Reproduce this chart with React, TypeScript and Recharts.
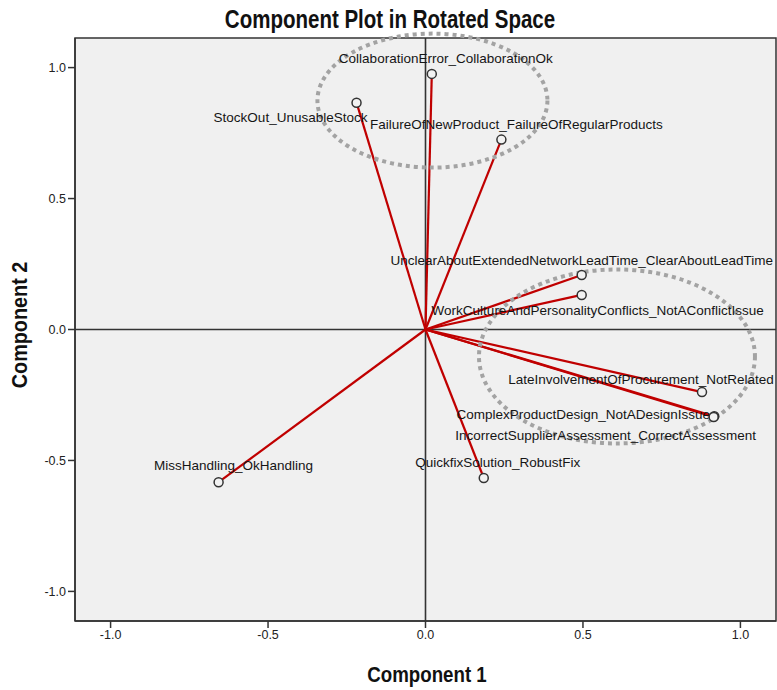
import React from 'react';
import {
  ScatterChart,
  Scatter,
  XAxis,
  YAxis,
  ReferenceArea,
  ReferenceLine,
  ReferenceDot,
} from 'recharts';

// component loadings (rotated)
const NAMES = [
  'CollaborationError_CollaborationOk',
  'StockOut_UnusableStock',
  'FailureOfNewProduct_FailureOfRegularProducts',
  'UnclearAboutExtendedNetworkLeadTime_ClearAboutLeadTime',
  'WorkCultureAndPersonalityConflicts_NotAConflictIssue',
  'LateInvolvementOfProcurement_NotRelated',
  'ComplexProductDesign_NotADesignIssue',
  'IncorrectSupplierAssessment_CorrectAssessment',
  'QuickfixSolution_RobustFix',
  'MissHandling_OkHandling',
];
const COMPONENT_1 = [0.02, -0.219, 0.241, 0.496, 0.496, 0.878, 0.917, 0.915, 0.185, -0.657];
const COMPONENT_2 = [0.976, 0.866, 0.725, 0.208, 0.132, -0.239, -0.331, -0.334, -0.567, -0.583];

const TICKS = [-1, -0.5, 0, 0.5, 1];
const DOMAIN: [number, number] = [-1.113, 1.113];

// dashed groupings, centre in component space
const GROUP_C1 = [0.022, 0.608];
const GROUP_C2 = [0.874, -0.103];
const GROUP_R = [
  [115, 67],
  [138, 87],
];

// label placement relative to the point (px)
const LABEL_OFFSET = [
  [14, -15],
  [-66, 15],
  [15, -15],
  [0, -15],
  [16, 16],
  [-61, -13],
  [-131, -2],
  [-108, 19],
  [14, -16],
  [15, -17],
];

const points = NAMES.map((name, i) => ({ name, x: COMPONENT_1[i], y: COMPONENT_2[i], i }));

const FONT = '"Liberation Sans", Arial, sans-serif';

const PointShape = (props: any) => {
  const { cx, cy, payload } = props;
  const [dx, dy] = LABEL_OFFSET[payload.i];
  return (
    <g>
      <text
        x={cx + dx}
        y={cy + dy}
        textAnchor="middle"
        dominantBaseline="central"
        fontSize={13.5}
        fontFamily={FONT}
        fill="#151515"
      >
        {payload.name}
      </text>
      <circle cx={cx} cy={cy} r={4.5} fill="#f2f2f2" stroke="#333" strokeWidth={1.5} />
    </g>
  );
};

const titleStyle: React.CSSProperties = {
  fontFamily: FONT,
  fontWeight: 700,
  color: '#111',
  whiteSpace: 'nowrap',
};

export default function App() {
  return (
    <div style={{ position: 'relative', width: 777, height: 690, background: '#fff' }}>
      <style>{'body{margin:0}'}</style>
      <div
        style={{
          ...titleStyle,
          position: 'absolute',
          top: 19,
          left: 390,
          fontSize: 25,
          transform: 'translate(-50%, -50%) scaleX(0.82)',
        }}
      >
        Component Plot in Rotated Space
      </div>
      <ScatterChart width={777} height={690} margin={{ top: 38, right: 1, bottom: 0, left: 0 }}>
        <XAxis
          type="number"
          dataKey="x"
          domain={DOMAIN}
          ticks={TICKS}
          allowDataOverflow
          height={69}
          tickFormatter={(v: number) => v.toFixed(1)}
          tick={{ fontSize: 12.5, fill: '#222', fontFamily: FONT }}
          tickSize={7}
          axisLine={{ stroke: '#333', strokeWidth: 1.5 }}
          tickLine={{ stroke: '#333', strokeWidth: 1.5 }}
        />
        <YAxis
          type="number"
          dataKey="y"
          domain={DOMAIN}
          ticks={TICKS}
          allowDataOverflow
          width={75}
          tickFormatter={(v: number) => v.toFixed(1)}
          tick={{ fontSize: 12.5, fill: '#222', fontFamily: FONT }}
          tickSize={7}
          axisLine={{ stroke: '#333', strokeWidth: 1.5 }}
          tickLine={{ stroke: '#333', strokeWidth: 1.5 }}
        />
        <ReferenceArea
          x1={DOMAIN[0]}
          x2={DOMAIN[1]}
          y1={DOMAIN[0]}
          y2={DOMAIN[1]}
          fill="#f0f0f0"
          fillOpacity={1}
          stroke="#333"
          strokeWidth={1.5}
        />
        <ReferenceLine x={0} stroke="#333" strokeWidth={1.6} />
        <ReferenceLine y={0} stroke="#333" strokeWidth={1.6} />
        {points.map((p) => (
          <ReferenceLine
            key={p.name}
            segment={[
              { x: 0, y: 0 },
              { x: p.x, y: p.y },
            ]}
            stroke="#c00000"
            strokeWidth={2.2}
          />
        ))}
        {GROUP_C1.map((gx, k) => (
          <ReferenceDot
            key={k}
            x={gx}
            y={GROUP_C2[k]}
            r={1}
            shape={(s: any) => (
              <ellipse
                cx={s.cx}
                cy={s.cy}
                rx={GROUP_R[k][0]}
                ry={GROUP_R[k][1]}
                fill="none"
                stroke="#a3a3a3"
                strokeWidth={4}
                strokeDasharray="4 4"
              />
            )}
          />
        ))}
        <Scatter data={points} isAnimationActive={false} shape={PointShape} />
      </ScatterChart>
      <div
        style={{
          ...titleStyle,
          position: 'absolute',
          top: 675,
          left: 427,
          fontSize: 22,
          transform: 'translate(-50%, -50%) scaleX(0.85)',
        }}
      >
        Component 1
      </div>
      <div
        style={{
          ...titleStyle,
          position: 'absolute',
          top: 325,
          left: 20,
          fontSize: 22,
          transform: 'translate(-50%, -50%) rotate(-90deg) scaleX(0.9)',
        }}
      >
        Component 2
      </div>
    </div>
  );
}
